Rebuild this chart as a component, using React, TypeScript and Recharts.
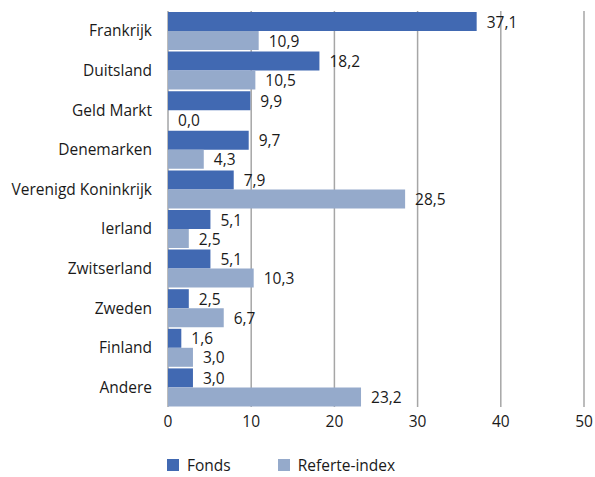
import React from "react";
import { BarChart, Bar, XAxis, YAxis, CartesianGrid, Legend } from "recharts";

const categories = [
  "Frankrijk",
  "Duitsland",
  "Geld Markt",
  "Denemarken",
  "Verenigd Koninkrijk",
  "Ierland",
  "Zwitserland",
  "Zweden",
  "Finland",
  "Andere",
];
const fonds = [37.1, 18.2, 9.9, 9.7, 7.9, 5.1, 5.1, 2.5, 1.6, 3.0];
const referte = [10.9, 10.5, 0.0, 4.3, 28.5, 2.5, 10.3, 6.7, 3.0, 23.2];
const xTicks = [0, 10, 20, 30, 40, 50];

const seriesNames = { fonds: "Fonds", referte: "Referte-index" };
const colors = { fonds: "#4169B2", referte: "#95AACB" };

const data = categories.map((name, i) => ({ name, fonds: fonds[i], referte: referte[i] }));

const FONT = "'Open Sans', sans-serif";
const FS = 15.5;
const fmt = (v: number) => v.toFixed(1).replace(".", ",");

const ValueLabel = (props: any) => {
  const { x, y, width, height, value } = props;
  if (value === undefined || value === null) return null;
  return (
    <text
      x={Number(x) + Number(width || 0) + 10}
      y={Number(y) + Number(height) / 2}
      dominantBaseline="central"
      textAnchor="start"
      fontFamily={FONT}
      fontSize={FS}
      fill="#1a1a1a"
    >
      {fmt(Number(value))}
    </text>
  );
};

const LegendContent = () => (
  <div style={{ display: "flex", alignItems: "center", fontFamily: FONT, fontSize: FS, color: "#1a1a1a", height: 20 }}>
    <span style={{ width: 12, height: 12, background: colors.fonds, display: "inline-block" }} />
    <span style={{ marginLeft: 8 }}>{seriesNames.fonds}</span>
    <span style={{ width: 12, height: 12, background: colors.referte, display: "inline-block", marginLeft: 47 }} />
    <span style={{ marginLeft: 8 }}>{seriesNames.referte}</span>
  </div>
);

const tinyForZero = (v: any) => (Number(v) === 0 ? 0.1 : 0);

export default function App() {
  return (
    <div style={{ position: "absolute", left: 0, top: 0, background: "#fff" }}>
      <BarChart
        width={595}
        height={477}
        data={data}
        layout="vertical"
        margin={{ top: 11, right: 11, left: 0, bottom: 0 }}
        barCategoryGap={1}
        barGap={0}
      >
        <CartesianGrid horizontal={false} vertical stroke="#A6A6A6" strokeWidth={1.5} />
        <XAxis
          type="number"
          domain={[0, 50]}
          ticks={xTicks}
          interval={0}
          axisLine={false}
          tickLine={false}
          tickSize={0}
          tickMargin={9}
          height={40}
          tick={{ fontFamily: FONT, fontSize: FS, fill: "#1a1a1a" }}
        />
        <YAxis
          type="category"
          dataKey="name"
          width={168}
          axisLine={false}
          tickLine={false}
          tickSize={0}
          tickMargin={16}
          interval={0}
          tick={{ fontFamily: FONT, fontSize: FS, fill: "#1a1a1a" }}
        />
        <Legend
          verticalAlign="bottom"
          align="left"
          content={<LegendContent />}
          wrapperStyle={{ left: 167, top: 455, height: 30, width: 400 }}
        />
        <Bar dataKey="fonds" name={seriesNames.fonds} fill={colors.fonds} isAnimationActive={false} label={<ValueLabel />} />
        <Bar
          dataKey="referte"
          name={seriesNames.referte}
          fill={colors.referte}
          isAnimationActive={false}
          minPointSize={tinyForZero}
          label={<ValueLabel />}
        />
      </BarChart>
    </div>
  );
}
